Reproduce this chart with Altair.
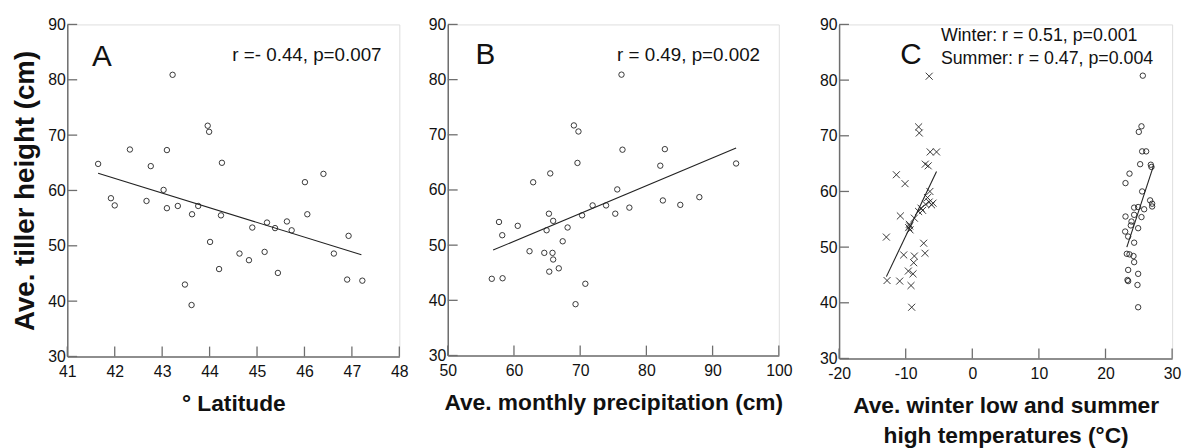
import altair as alt
import pandas as pd

FONT = "Liberation Sans"

# ---------------- Panel A: latitude ----------------
a_lat = [41.65, 41.92, 42.0, 42.32, 42.67, 42.76, 43.03, 43.10, 43.10, 43.22,
         43.33, 43.48, 43.62, 43.63, 43.76, 43.96, 43.99, 44.01, 44.2, 44.24,
         44.26, 44.63, 44.83, 44.90, 45.16, 45.21, 45.38, 45.44, 45.63, 45.73,
         46.01, 46.06, 46.40, 46.62, 46.90, 46.93, 47.22]
a_height = [64.8, 58.6, 57.3, 67.4, 58.1, 64.4, 60.1, 67.3, 56.8, 80.9,
            57.2, 43.0, 39.3, 55.7, 57.2, 71.7, 70.6, 50.7, 45.8, 55.5,
            65.0, 48.6, 47.4, 53.3, 48.9, 54.2, 53.2, 45.1, 54.4, 52.8,
            61.5, 55.7, 63.0, 48.6, 43.9, 51.8, 43.7]
a_fit_x = [41.65, 47.2]
a_fit_y = [63.1, 48.4]

# ---------------- Panel B: precipitation ----------------
b_precip = [56.65, 57.74, 58.23, 58.28, 60.57, 62.35, 62.9, 64.58, 64.93, 65.28,
            65.33, 65.48, 65.82, 65.92, 65.92, 66.77, 67.36, 68.1, 69.05, 69.74,
            69.59, 70.29, 70.78, 69.3, 71.88, 73.91, 75.3, 75.6, 76.24, 76.39,
            77.43, 82.1, 82.49, 82.79, 85.12, 88.0, 93.55]
b_height = [43.9, 54.2, 51.8, 44.0, 53.5, 48.9, 61.4, 48.6, 52.7, 55.7,
            45.2, 63.0, 48.6, 54.4, 47.4, 45.8, 50.7, 53.2, 71.7, 70.6,
            64.9, 55.4, 43.0, 39.3, 57.2, 57.2, 55.7, 60.1, 80.9, 67.3,
            56.8, 64.4, 58.1, 67.4, 57.3, 58.7, 64.8]
b_fit_x = [56.85, 93.55]
b_fit_y = [49.1, 67.6]

# ---------------- Panel C: temperatures ----------------
c_winter_x = [-6.47, -8.06, -7.96, -6.32, -5.37, -7.06, -6.62, -11.4, -10.1, -6.37,
              -6.72, -6.47, -6.12, -7.0, -7.7, -7.46, -8.06, -10.8, -8.7, -9.45,
              -9.55, -9.35, -12.9, -7.3, -7.1, -10.3, -8.7, -8.8, -9.6, -8.9,
              -12.8, -10.9, -9.2, -9.1, -9.4, -5.9]
c_winter_y = [80.7, 71.6, 70.5, 67.1, 67.1, 64.9, 64.6, 63.0, 61.4, 60.0,
              58.9, 58.1, 57.6, 57.7, 57.0, 56.6, 56.4, 55.6, 55.2, 54.1,
              53.5, 53.1, 51.8, 50.7, 48.9, 48.6, 48.4, 47.2, 45.7, 45.2,
              44.0, 43.9, 43.1, 39.2, 53.8, 57.9]
c_summer_x = [25.6, 25.4, 25.0, 25.5, 26.1, 25.2, 26.8, 26.9, 23.6, 23.0,
              25.5, 26.7, 27.0, 27.0, 24.9, 24.3, 25.8, 23.0, 25.4, 24.3,
              23.9, 23.8, 24.9, 22.95, 23.4, 24.3, 23.2, 23.6, 24.2, 24.3,
              23.4, 24.9, 23.3, 23.4, 24.8, 24.9]
c_summer_y = [80.8, 71.7, 70.7, 67.2, 67.2, 64.9, 64.8, 64.4, 63.2, 61.5,
              60.0, 58.4, 57.8, 57.3, 57.2, 57.1, 56.8, 55.5, 55.4, 55.8,
              54.6, 53.9, 53.4, 52.8, 51.9, 50.8, 48.8, 48.7, 48.4, 47.3,
              45.9, 45.2, 44.1, 43.9, 43.2, 39.2]
c_winter_fit_x = [-12.9, -5.37]
c_winter_fit_y = [44.7, 63.6]
c_summer_fit_x = [23.2, 27.2]
c_summer_fit_y = [50.0, 64.6]

# ---------------- Axes / labels ----------------
y_ticks = [30, 40, 50, 60, 70, 80, 90]
a_ticks = [41, 42, 43, 44, 45, 46, 47, 48]
b_ticks = [50, 60, 70, 80, 90, 100]
c_ticks = [-20, -10, 0, 10, 20, 30]
y_title = "Ave. tiller height (cm)"
a_title = "° Latitude"
b_title = "Ave. monthly precipitation (cm)"
c_title = ["Ave. winter low and summer", "high temperatures (°C)"]
letters = ["A", "B", "C"]
a_note = ["r =- 0.44, p=0.007"]
b_note = ["r = 0.49, p=0.002"]
c_note = ["Winter: r = 0.51, p=0.001", "Summer: r = 0.47, p=0.004"]

CROSS = "M-1,-1L1,1M-1,1L1,-1"
FRAME = "#6e6e6e"


def make_panel(xdom, xticks, xtitle, ytitle, w, h, pts_layers, fit_layers,
               letter, letter_pos, notes, note_pos, note_align):
    xs = alt.Scale(domain=xdom, nice=False, zero=False)
    ys = alt.Scale(domain=[30, 90], nice=False, zero=False)
    xaxis = alt.Axis(values=xticks, ticks=False, tickSize=0, grid=False,
                     labelPadding=7, labelFontSize=16, labelFont=FONT,
                     labelColor="#111", labelExpr="'' + datum.value",
                     title=xtitle, titleFontSize=23,
                     titleFont=FONT, titleFontWeight="bold", titleColor="#111",
                     titlePadding=14, titleLineHeight=30,
                     domainColor=FRAME, domainWidth=1.5, labelFlush=False)
    yargs = dict(values=y_ticks, ticks=False, tickSize=0, grid=False,
                 labelPadding=2, labelFontSize=16, labelFont=FONT,
                 labelColor="#111", domainColor=FRAME, domainWidth=1.5,
                 labelFlush=False)
    if ytitle:
        yaxis = alt.Axis(title=ytitle, titleFontSize=28, titleFont=FONT,
                         titleFontWeight="bold", titleColor="#111",
                         titlePadding=8, **yargs)
    else:
        yaxis = alt.Axis(title=None, **yargs)

    layers = []
    # inward tick marks from the tick value lists
    xt = pd.DataFrame({"v": xticks})
    layers.append(alt.Chart(xt).mark_rule(color=FRAME, strokeWidth=1.3).encode(
        x=alt.X("v:Q", scale=xs, axis=xaxis),
        y=alt.value(h), y2=alt.value(h - 10)))
    yt = pd.DataFrame({"v": y_ticks})
    layers.append(alt.Chart(yt).mark_rule(color=FRAME, strokeWidth=1.3).encode(
        y=alt.Y("v:Q", scale=ys, axis=yaxis),
        x=alt.value(0), x2=alt.value(10)))

    for (xv, yv) in fit_layers:
        df = pd.DataFrame({"x": xv, "y": yv})
        layers.append(alt.Chart(df).mark_line(color="#222", strokeWidth=1.1).encode(
            x=alt.X("x:Q", scale=xs), y=alt.Y("y:Q", scale=ys)))
    for (xv, yv, shape, size) in pts_layers:
        df = pd.DataFrame({"x": xv, "y": yv})
        layers.append(alt.Chart(df).mark_point(
            shape=shape, filled=False, size=size, color="#222",
            strokeWidth=0.9, opacity=1).encode(
            x=alt.X("x:Q", scale=xs), y=alt.Y("y:Q", scale=ys)))

    ld = pd.DataFrame({"t": [letter]})
    layers.append(alt.Chart(ld).mark_text(
        font=FONT, fontSize=30, color="#111", align="left",
        baseline="alphabetic").encode(
        text="t:N", x=alt.value(letter_pos[0]), y=alt.value(letter_pos[1])))
    for i, note in enumerate(notes):
        nd = pd.DataFrame({"t": [note]})
        layers.append(alt.Chart(nd).mark_text(
            font=FONT, fontSize=note_pos[2], color="#111", align=note_align,
            baseline="alphabetic").encode(
            text="t:N", x=alt.value(note_pos[0]),
            y=alt.value(note_pos[1] + i * note_pos[3])))
    return alt.layer(*layers).properties(width=w, height=h)


panel_a = make_panel([41, 48], a_ticks, a_title, y_title, 336, 336,
                     [(a_lat, a_height, "circle", 30)],
                     [(a_fit_x, a_fit_y)],
                     letters[0], (25, 42), a_note, (318, 37, 19, 0), "right")
panel_b = make_panel([50, 100], b_ticks, b_title, None, 335, 335,
                     [(b_precip, b_height, "circle", 30)],
                     [(b_fit_x, b_fit_y)],
                     letters[1], (28, 40), b_note, (316, 37, 19, 0), "right")
panel_c = make_panel([-20, 30], c_ticks, c_title, None, 337, 338,
                     [(c_winter_x, c_winter_y, CROSS, 50),
                      (c_summer_x, c_summer_y, "circle", 30)],
                     [(c_winter_fit_x, c_winter_fit_y),
                      (c_summer_fit_x, c_summer_fit_y)],
                     letters[2], (62, 40), c_note, (103, 17, 18, 23.5), "left")

ab = alt.hconcat(panel_a, panel_b, spacing=18)
chart = alt.hconcat(ab, panel_c, spacing=26).properties(
    padding={"left": 3, "top": 5, "right": 0, "bottom": 0}
).configure_view(stroke=FRAME, strokeWidth=1.5).configure(background="white")

chart.save("out.html", embed_options={"renderer": "svg", "actions": False})
